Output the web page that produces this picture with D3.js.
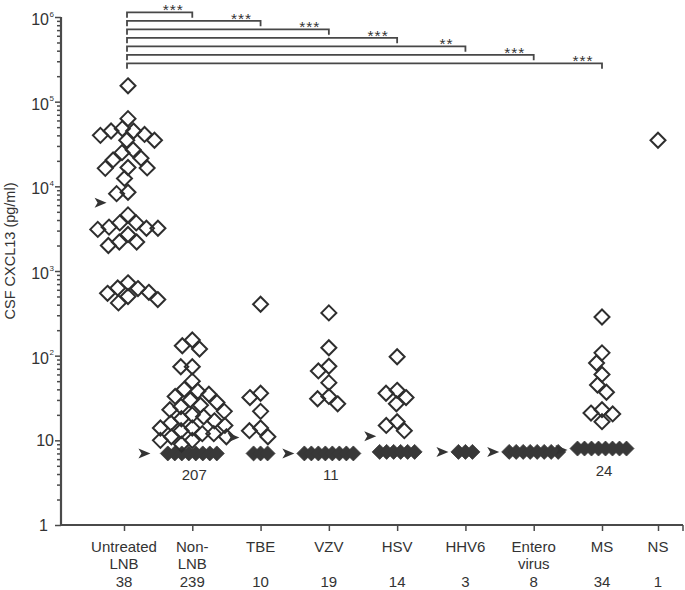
<!DOCTYPE html>
<html lang="en">
<head>
<meta charset="utf-8">
<title>CSF CXCL13</title>
<script src="https://cdn.jsdelivr.net/npm/d3@7"></script>
<style>
  body { margin: 0; background: #fff; }
  text { font-family: "Liberation Sans", Arial, sans-serif; fill: #333; }
  .tick line { stroke: #4a4a4a; stroke-width: 1.5; }
  .open { fill: none; stroke: #2e2e2e; stroke-width: 2; }
  .filled { fill: #383838; stroke: #383838; stroke-width: 0.8; }
  .bracket { fill: none; stroke: #484848; stroke-width: 1.8; }
</style>
</head>
<body>
<svg id="chart" width="685" height="590"></svg>
<script>
// groups along the x axis
var categories = ["Untreated LNB", "Non-LNB", "TBE", "VZV", "HSV", "HHV6", "Entero virus", "MS", "NS"];
var labelLines = [["Untreated", "LNB"], ["Non-", "LNB"], ["TBE"], ["VZV"], ["HSV"], ["HHV6"], ["Entero", "virus"], ["MS"], ["NS"]];
var totals = [38, 239, 10, 19, 14, 3, 8, 34, 1];

// patients below the detection limit (drawn as filled diamonds)
var belowLimit = [0, 207, 3, 11, 6, 3, 8, 24, 0];
var limitValue = [null, 7, 7, 7, 7.3, 7.3, 7.3, 8, null];
var medians = [6400, 7, 10.8, 7, 11.2, 7.3, 7.3, 7.7, null];

// measured CSF CXCL13 (pg/ml), open diamonds
var untreatedLNB = [154000, 63000, 48000, 45000, 45000, 41000, 40000, 35000, 35000, 27000,
  25000, 21500, 20500, 16700, 16500, 16300, 12400, 8500, 8200,
  4600, 3700, 3700, 3300, 3200, 3200, 3100, 2700, 2200, 2200, 2000,
  725, 630, 620, 560, 545, 500, 460, 420];
var nonLNB = [153, 131, 120, 74, 74, 50, 40, 38, 35, 33, 30, 28, 26, 25, 23, 22,
  20, 19, 18, 17, 16, 15, 14, 14, 13, 12, 12, 11, 11, 10, 10, 9];
var tbe = [405, 36, 32, 22, 14, 13, 11];
var vzv = [320, 124, 75, 66, 48, 33, 31, 27];
var hsv = [97, 39, 36, 32, 27, 16.6, 15, 13];
var hhv6 = [];
var enterovirus = [];
var ms = [286, 108, 82, 60, 45, 37, 23, 21, 20.5, 16.6];
var ns = [35000];
var groupValues = [untreatedLNB, nonLNB, tbe, vzv, hsv, hhv6, enterovirus, ms, ns];

// significance vs untreated LNB
var compareTo = [1, 2, 3, 4, 5, 6, 7];
var stars = ["***", "***", "***", "***", "**", "***", "***"];

var svg = d3.select("#chart");
var axisLeftX = 61, axisRight = 683;

var y = d3.scaleLog().domain([1, 1e6]).range([525, 17]);
var xi = d3.scaleLinear().domain([0, 7, 8]).range([124, 602, 658]);
function x(i) { return xi(i); }

// y axis
var minors = [];
for (var dec = 1; dec < 1e6; dec *= 10) {
  for (var k = 2; k < 10; k++) minors.push(k * dec);
}
var majors = [1, 10, 100, 1e3, 1e4, 1e5, 1e6];

svg.append("g").attr("transform", "translate(" + axisLeftX + ",0)")
  .call(d3.axisLeft(y).tickValues(minors).tickSize(4).tickFormat(""))
  .call(function(g) { g.select(".domain").remove(); });
svg.append("g").attr("transform", "translate(" + axisLeftX + ",0)")
  .call(d3.axisLeft(y).tickValues(majors).tickSize(6).tickFormat(""))
  .call(function(g) { g.select(".domain").remove(); });

svg.append("line")
  .attr("x1", axisLeftX).attr("x2", axisLeftX)
  .attr("y1", y(1e6)).attr("y2", y(1))
  .attr("stroke", "#4a4a4a").attr("stroke-width", 2.2);

majors.forEach(function(v) {
  var p = Math.round(Math.log10(v));
  if (p <= 1) {
    svg.append("text")
      .attr("x", p == 0 ? 48 : 54).attr("y", y(v) + 6)
      .attr("text-anchor", "end")
      .style("font-size", "16px")
      .text(p == 0 ? "1" : "10");
  } else {
    svg.append("text")
      .attr("x", 49).attr("y", y(v) + 8)
      .attr("text-anchor", "end")
      .style("font-size", "16px")
      .text("10");
    svg.append("text")
      .attr("x", 49.5).attr("y", y(v) - 0.5)
      .style("font-size", "8px")
      .text(p);
  }
});

svg.append("text")
  .attr("transform", "translate(15,251) rotate(-90)")
  .attr("text-anchor", "middle")
  .style("font-size", "14.5px")
  .text("CSF CXCL13 (pg/ml)");

// x axis
svg.append("line")
  .attr("x1", axisLeftX - 1).attr("x2", axisRight)
  .attr("y1", y(1)).attr("y2", y(1))
  .attr("stroke", "#4a4a4a").attr("stroke-width", 2.2);

svg.append("g").attr("transform", "translate(0," + y(1) + ")")
  .call(d3.axisBottom(xi).tickValues(d3.range(categories.length)).tickSize(6).tickFormat(""))
  .call(function(g) { g.select(".domain").remove(); });

svg.append("line")
  .attr("x1", axisRight).attr("x2", axisRight)
  .attr("y1", y(1)).attr("y2", y(1) + 6)
  .attr("stroke", "#4a4a4a").attr("stroke-width", 1.5);

categories.forEach(function(c, i) {
  labelLines[i].forEach(function(line, j) {
    svg.append("text")
      .attr("x", x(i)).attr("y", 552 + j * 17)
      .attr("text-anchor", "middle")
      .style("font-size", "15px")
      .text(line);
  });
  svg.append("text")
    .attr("x", x(i)).attr("y", 587)
    .attr("text-anchor", "middle")
    .style("font-size", "15px")
    .text(totals[i]);
});

// simple beeswarm: place each point as near the centre as collisions allow
function dodge(vals, diam) {
  var placed = [];
  var order = vals.map(function(v, i) { return i; })
    .sort(function(a, b) { return vals[b] - vals[a]; });
  var out = new Array(vals.length);
  order.forEach(function(i) {
    var py = y(vals[i]);
    var spans = [];
    placed.forEach(function(p) {
      var dy = Math.abs(p.y - py);
      if (dy < diam) {
        var w = Math.sqrt(diam * diam - dy * dy);
        spans.push([p.x - w, p.x + w]);
      }
    });
    var cands = [0];
    spans.forEach(function(s) { cands.push(s[0], s[1]); });
    cands.sort(function(a, b) { return Math.abs(a) - Math.abs(b) || a - b; });
    var best = 0;
    for (var c = 0; c < cands.length; c++) {
      var ok = spans.every(function(s) { return cands[c] <= s[0] + 1e-6 || cands[c] >= s[1] - 1e-6; });
      if (ok) { best = cands[c]; break; }
    }
    placed.push({ x: best, y: py });
    out[i] = best;
  });
  return out;
}

var diamond = "M0,-7.5L7.5,0L0,7.5L-7.5,0Z";
var rowStep = 7, rowMax = 8;

groupValues.forEach(function(vals, i) {
  var cx = x(i) + (i == 0 ? 4 : 0);
  var marks = [];
  var offs = dodge(vals, 11.5);
  var g = svg.append("g");

  // below detection limit row
  var n = belowLimit[i];
  if (n > 0) {
    var m = Math.min(n, rowMax);
    var rowY = y(limitValue[i]);
    for (var j = 0; j < m; j++) {
      var rx = cx + (j - (m - 1) / 2) * rowStep;
      marks.push({ x: rx, y: rowY });
      g.append("path").attr("class", "filled")
        .attr("d", diamond)
        .attr("transform", "translate(" + rx + "," + rowY + ")");
    }
    if (n > rowMax) {
      svg.append("text")
        .attr("x", cx + 2).attr("y", rowY + 27)
        .attr("text-anchor", "middle")
        .style("font-size", "15px")
        .text(n);
    }
  }

  g.selectAll(".open")
    .data(vals)
    .enter().append("path")
    .attr("class", "open")
    .attr("d", diamond)
    .attr("transform", function(d, k) {
      marks.push({ x: cx + offs[k], y: y(d) });
      return "translate(" + (cx + offs[k]) + "," + y(d) + ")";
    });

  // median arrow, just left of the marks at that level
  if (medians[i] != null) {
    var my = y(medians[i]);
    var near = marks.filter(function(p) { return Math.abs(p.y - my) < 14; });
    var left = near.length ? d3.min(near, function(p) { return p.x; }) : cx;
    var tip = left - 10;
    svg.append("path")
      .attr("d", "M" + tip + "," + my + "L" + (tip - 12) + "," + (my - 5) +
        "L" + (tip - 9) + "," + my + "L" + (tip - 12) + "," + (my + 5) + "Z")
      .attr("fill", "#333");
  }
});

// significance brackets
compareTo.forEach(function(k, i) {
  var ly = 12.3 + i * 8.5;
  var x0 = x(0) + 3, x1 = x(k);
  svg.append("path").attr("class", "bracket")
    .attr("d", "M" + x0 + "," + (ly + 5.5) + "V" + ly + "H" + x1 + "V" + (ly + 5.5));
  svg.append("text")
    .attr("x", x1 - 19).attr("y", ly + 3)
    .attr("text-anchor", "middle")
    .style("font-size", "15.5px")
    .style("letter-spacing", "1px")
    .text(stars[i]);
});
</script>
</body>
</html>
